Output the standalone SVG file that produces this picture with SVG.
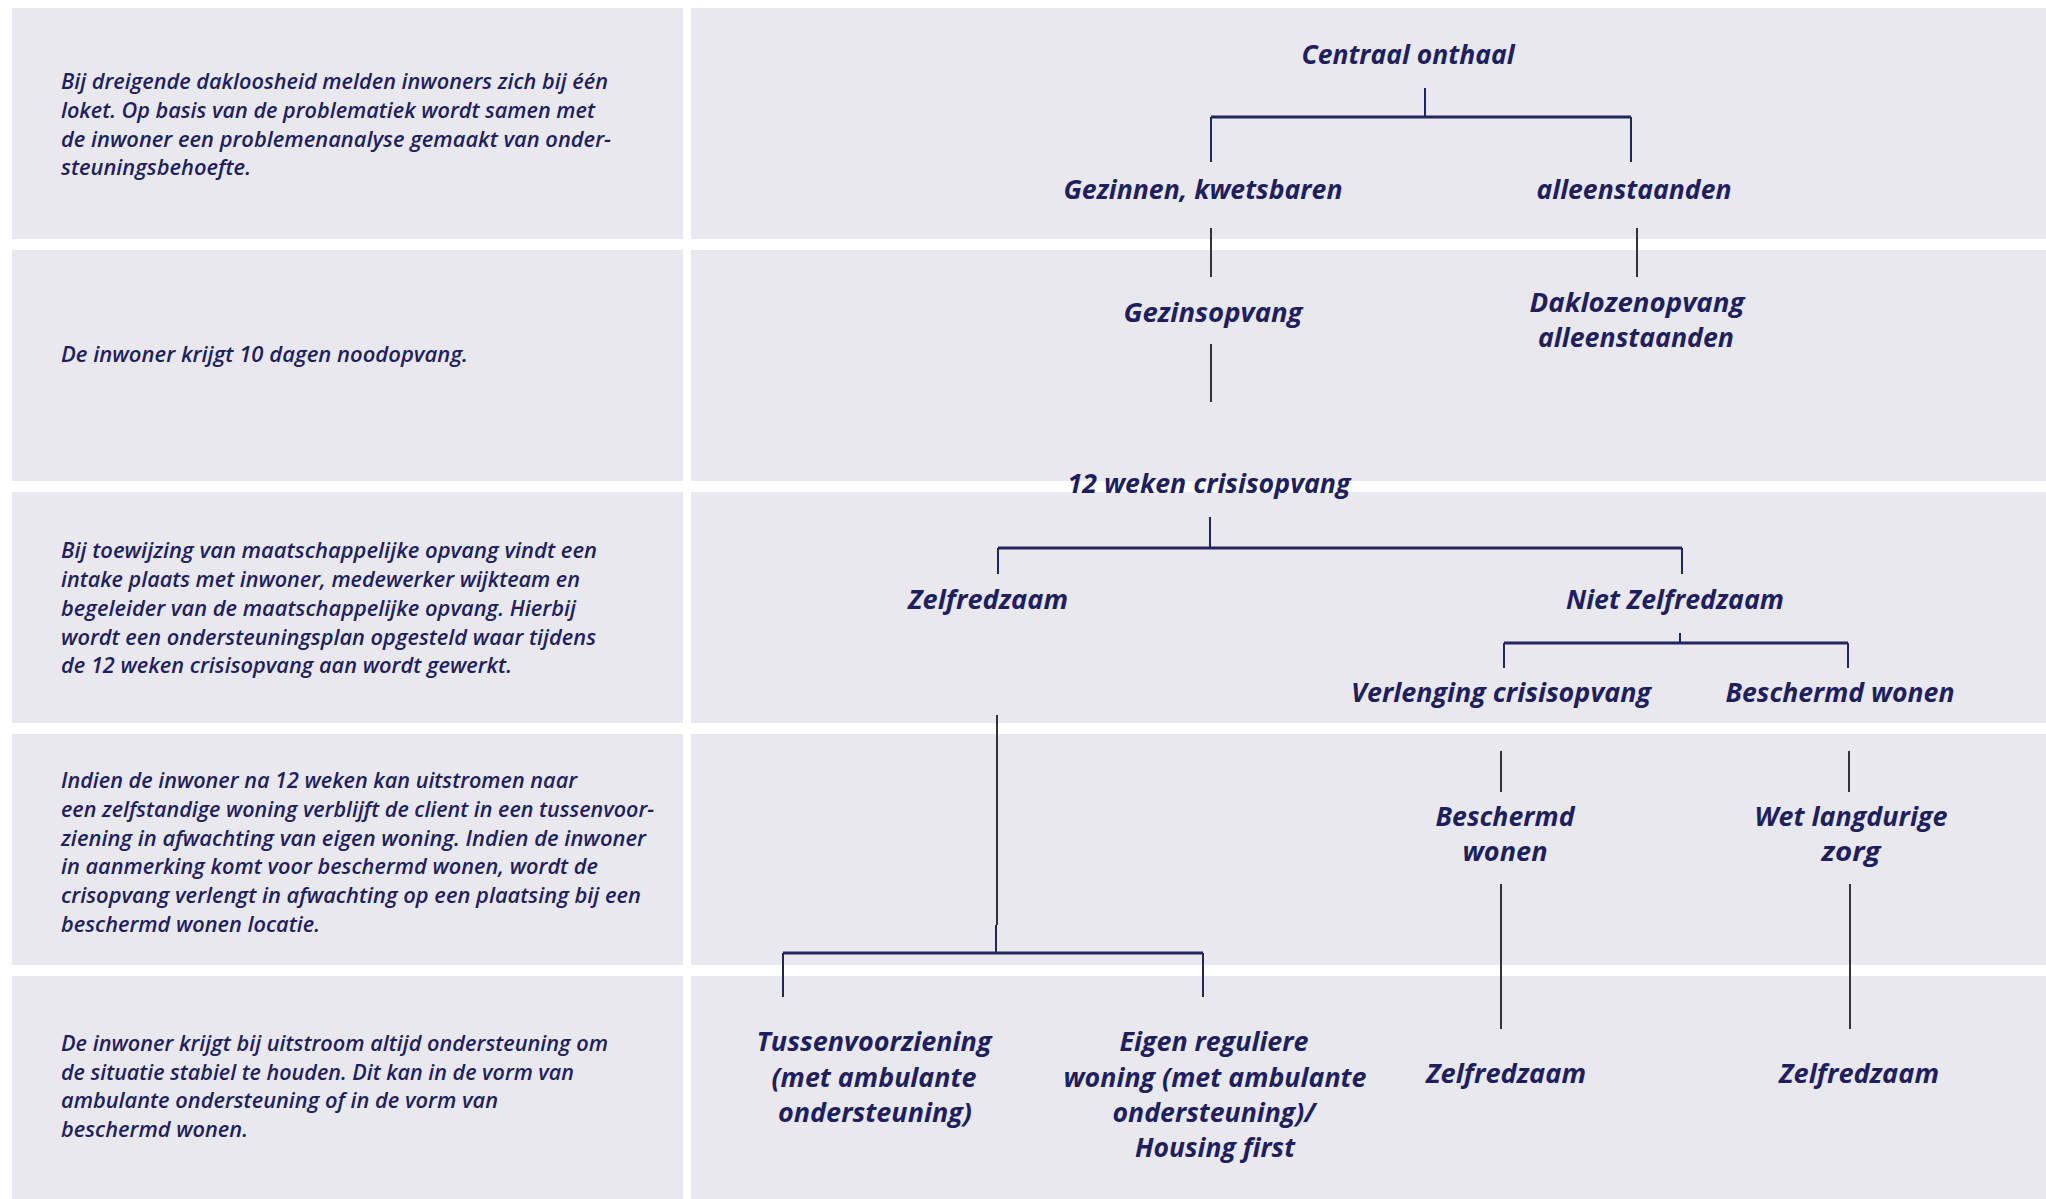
<svg xmlns="http://www.w3.org/2000/svg" width="2046" height="1199" viewBox="0 0 2046 1199">
<style>
.panel{fill:#E9E8EF}
.desc{font-family:"Open Sans","Liberation Sans",sans-serif;font-style:italic;font-weight:600;font-size:21px;fill:#1f1f5e}
.lbl{font-family:"Open Sans","Liberation Sans",sans-serif;font-style:italic;font-weight:700;font-size:27px;fill:#1f1f5e;text-anchor:middle}
.h{stroke:#24245e;stroke-width:3;fill:none}
.v{stroke:#24245e;stroke-width:2;fill:none}
.g{stroke:#333338;stroke-width:2;fill:none}
</style>
<rect width="2046" height="1199" fill="#ffffff"/>
<g id="panels">
<rect class="panel" x="12" y="8" width="671" height="231"/>
<rect class="panel" x="691" y="8" width="1355" height="231"/>
<rect class="panel" x="12" y="250" width="671" height="231"/>
<rect class="panel" x="691" y="250" width="1355" height="231"/>
<rect class="panel" x="12" y="492" width="671" height="231"/>
<rect class="panel" x="691" y="492" width="1355" height="231"/>
<rect class="panel" x="12" y="734" width="671" height="231"/>
<rect class="panel" x="691" y="734" width="1355" height="231"/>
<rect class="panel" x="12" y="976" width="671" height="223"/>
<rect class="panel" x="691" y="976" width="1355" height="223"/>
</g>
<g id="desc-1" class="desc">
<text x="61" y="89" textLength="547" lengthAdjust="spacingAndGlyphs">Bij dreigende dakloosheid melden inwoners zich bij één</text>
<text x="61" y="118" textLength="534" lengthAdjust="spacingAndGlyphs">loket. Op basis van de problematiek wordt samen met</text>
<text x="61" y="147" textLength="550" lengthAdjust="spacingAndGlyphs">de inwoner een problemenanalyse gemaakt van onder-</text>
<text x="61" y="175" textLength="190" lengthAdjust="spacingAndGlyphs">steuningsbehoefte.</text>
</g>
<g id="desc-2" class="desc">
<text x="61" y="362" textLength="407" lengthAdjust="spacingAndGlyphs">De inwoner krijgt 10 dagen noodopvang.</text>
</g>
<g id="desc-3" class="desc">
<text x="61" y="558" textLength="536" lengthAdjust="spacingAndGlyphs">Bij toewijzing van maatschappelijke opvang vindt een</text>
<text x="61" y="587" textLength="519" lengthAdjust="spacingAndGlyphs">intake plaats met inwoner, medewerker wijkteam en</text>
<text x="61" y="616" textLength="515" lengthAdjust="spacingAndGlyphs">begeleider van de maatschappelijke opvang. Hierbij</text>
<text x="61" y="645" textLength="535" lengthAdjust="spacingAndGlyphs">wordt een ondersteuningsplan opgesteld waar tijdens</text>
<text x="61" y="673" textLength="451" lengthAdjust="spacingAndGlyphs">de 12 weken crisisopvang aan wordt gewerkt.</text>
</g>
<g id="desc-4" class="desc">
<text x="61" y="788" textLength="516" lengthAdjust="spacingAndGlyphs">Indien de inwoner na 12 weken kan uitstromen naar</text>
<text x="61" y="817" textLength="593" lengthAdjust="spacingAndGlyphs">een zelfstandige woning verblijft de client in een tussenvoor-</text>
<text x="61" y="846" textLength="585" lengthAdjust="spacingAndGlyphs">ziening in afwachting van eigen woning. Indien de inwoner</text>
<text x="61" y="874" textLength="537" lengthAdjust="spacingAndGlyphs">in aanmerking komt voor beschermd wonen, wordt de</text>
<text x="61" y="903" textLength="580" lengthAdjust="spacingAndGlyphs">crisopvang verlengt in afwachting op een plaatsing bij een</text>
<text x="61" y="932" textLength="259" lengthAdjust="spacingAndGlyphs">beschermd wonen locatie.</text>
</g>
<g id="desc-5" class="desc">
<text x="61" y="1051" textLength="547" lengthAdjust="spacingAndGlyphs">De inwoner krijgt bij uitstroom altijd ondersteuning om</text>
<text x="61" y="1080" textLength="513" lengthAdjust="spacingAndGlyphs">de situatie stabiel te houden. Dit kan in de vorm van</text>
<text x="61" y="1108" textLength="437" lengthAdjust="spacingAndGlyphs">ambulante ondersteuning of in de vorm van</text>
<text x="61" y="1137" textLength="187" lengthAdjust="spacingAndGlyphs">beschermd wonen.</text>
</g>
<g id="connectors">
<path class="v" d="M1425 88V117"/>
<path class="h" d="M1211 117H1631"/>
<path class="v" d="M1211 117V162M1631 117V162"/>
<path class="g" d="M1211 228V277M1637 228V277"/>
<path class="g" d="M1211 344V402"/>
<path class="v" d="M1210 517V548"/>
<path class="h" d="M998 548H1682"/>
<path class="v" d="M998 548V574M1682 548V574"/>
<path class="v" d="M1680 633V643"/>
<path class="h" d="M1504 643H1848"/>
<path class="v" d="M1504 643V668M1848 643V668"/>
<path class="g" d="M997 715V925"/>
<path class="v" d="M996 925V953"/>
<path class="h" d="M783 953H1203"/>
<path class="v" d="M783 953V997M1203 953V997"/>
<path class="g" d="M1501 751V792M1849 751V792"/>
<path class="g" d="M1501 884V1029M1850 884V1029"/>
</g>
<g id="n-centraal" class="lbl"><text x="1408" y="64" textLength="213" lengthAdjust="spacingAndGlyphs">Centraal onthaal</text></g>
<g id="n-gezinnen" class="lbl"><text x="1203" y="199" textLength="279" lengthAdjust="spacingAndGlyphs">Gezinnen, kwetsbaren</text></g>
<g id="n-alleenstaanden" class="lbl"><text x="1634" y="199" textLength="195" lengthAdjust="spacingAndGlyphs">alleenstaanden</text></g>
<g id="n-gezinsopvang" class="lbl"><text x="1213" y="322" textLength="179" lengthAdjust="spacingAndGlyphs">Gezinsopvang</text></g>
<g id="n-daklozenopvang" class="lbl">
<text x="1637" y="312" textLength="215" lengthAdjust="spacingAndGlyphs">Daklozenopvang</text>
<text x="1636" y="347" textLength="196" lengthAdjust="spacingAndGlyphs">alleenstaanden</text>
</g>
<g id="n-crisisopvang" class="lbl"><text x="1209" y="493" textLength="283" lengthAdjust="spacingAndGlyphs">12 weken crisisopvang</text></g>
<g id="n-zelfredzaam" class="lbl"><text x="988" y="609" textLength="160" lengthAdjust="spacingAndGlyphs">Zelfredzaam</text></g>
<g id="n-niet-zelfredzaam" class="lbl"><text x="1675" y="609" textLength="218" lengthAdjust="spacingAndGlyphs">Niet Zelfredzaam</text></g>
<g id="n-verlenging" class="lbl"><text x="1501" y="702" textLength="300" lengthAdjust="spacingAndGlyphs">Verlenging crisisopvang</text></g>
<g id="n-beschermd-wonen" class="lbl"><text x="1840" y="702" textLength="229" lengthAdjust="spacingAndGlyphs">Beschermd wonen</text></g>
<g id="n-beschermd-wonen-2" class="lbl">
<text x="1505" y="826" textLength="139" lengthAdjust="spacingAndGlyphs">Beschermd</text>
<text x="1505" y="861" textLength="85" lengthAdjust="spacingAndGlyphs">wonen</text>
</g>
<g id="n-wlz" class="lbl">
<text x="1851" y="826" textLength="193" lengthAdjust="spacingAndGlyphs">Wet langdurige</text>
<text x="1851" y="861" textLength="59" lengthAdjust="spacingAndGlyphs">zorg</text>
</g>
<g id="n-tussenvoorziening" class="lbl">
<text x="874" y="1051" textLength="235" lengthAdjust="spacingAndGlyphs">Tussenvoorziening</text>
<text x="874" y="1087" textLength="205" lengthAdjust="spacingAndGlyphs">(met ambulante</text>
<text x="875" y="1122" textLength="194" lengthAdjust="spacingAndGlyphs">ondersteuning)</text>
</g>
<g id="n-eigen-woning" class="lbl">
<text x="1214" y="1051" textLength="189" lengthAdjust="spacingAndGlyphs">Eigen reguliere</text>
<text x="1215" y="1087" textLength="303" lengthAdjust="spacingAndGlyphs">woning (met ambulante</text>
<text x="1214" y="1122" textLength="203" lengthAdjust="spacingAndGlyphs">ondersteuning)/</text>
<text x="1215" y="1157" textLength="160" lengthAdjust="spacingAndGlyphs">Housing first</text>
</g>
<g id="n-zelfredzaam-3" class="lbl"><text x="1506" y="1083" textLength="160" lengthAdjust="spacingAndGlyphs">Zelfredzaam</text></g>
<g id="n-zelfredzaam-4" class="lbl"><text x="1859" y="1083" textLength="160" lengthAdjust="spacingAndGlyphs">Zelfredzaam</text></g>
</svg>
